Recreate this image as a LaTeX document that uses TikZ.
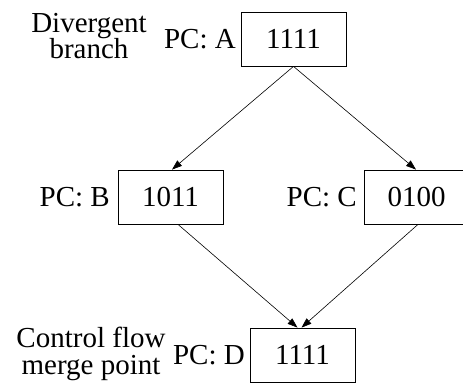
\documentclass[tikz,border=0pt]{standalone}
\usepackage{fontspec}
\setmainfont{Liberation Serif}
\usetikzlibrary{arrows.meta}
\begin{document}
\begin{tikzpicture}[x=1pt,y=-1pt,
  mask/.style={draw, line width=0.8pt, minimum width=105pt, minimum height=54pt, inner sep=0pt},
  pclabel/.style={inner sep=0pt, anchor=base east},
  note/.style={inner sep=0pt, align=center},
  flow/.style={-{Triangle[length=10pt,width=7pt]}, line width=0.6pt},
  every node/.style={font=\fontsize{29}{26.5}\selectfont}]
\useasboundingbox (0,0) rectangle (463,383);
% active masks
\node[mask] (A) at (293.5,39) {1111};
\node[mask] (B) at (170.5,197) {1011};
\node[mask] (C) at (416.5,197) {0100};
\node[mask] (D) at (302.5,355) {1111};
% program counters
\node[pclabel] (pa) at (236,48) {PC: A};
\node[pclabel] (pb) at (110,206) {PC: B};
\node[pclabel] (pc) at (357,206) {PC: C};
\node[pclabel] (pd) at (245,364) {PC: D};
% annotations
\node[note] (div) at (89,36) {Divergent\\branch};
\node[note] (mrg) at (91,354) {Control flow\\merge point};
% control flow edges
\draw[flow] (A.south) -- ([xshift=1.5pt]B.north);
\draw[flow] (A.south) -- ([xshift=-0.5pt]C.north);
\draw[flow] ([xshift=7.5pt]B.south) -- ([xshift=-5pt]D.north);
\draw[flow] ([xshift=1.5pt]C.south) -- ([xshift=-1pt]D.north);
\end{tikzpicture}
\end{document}
